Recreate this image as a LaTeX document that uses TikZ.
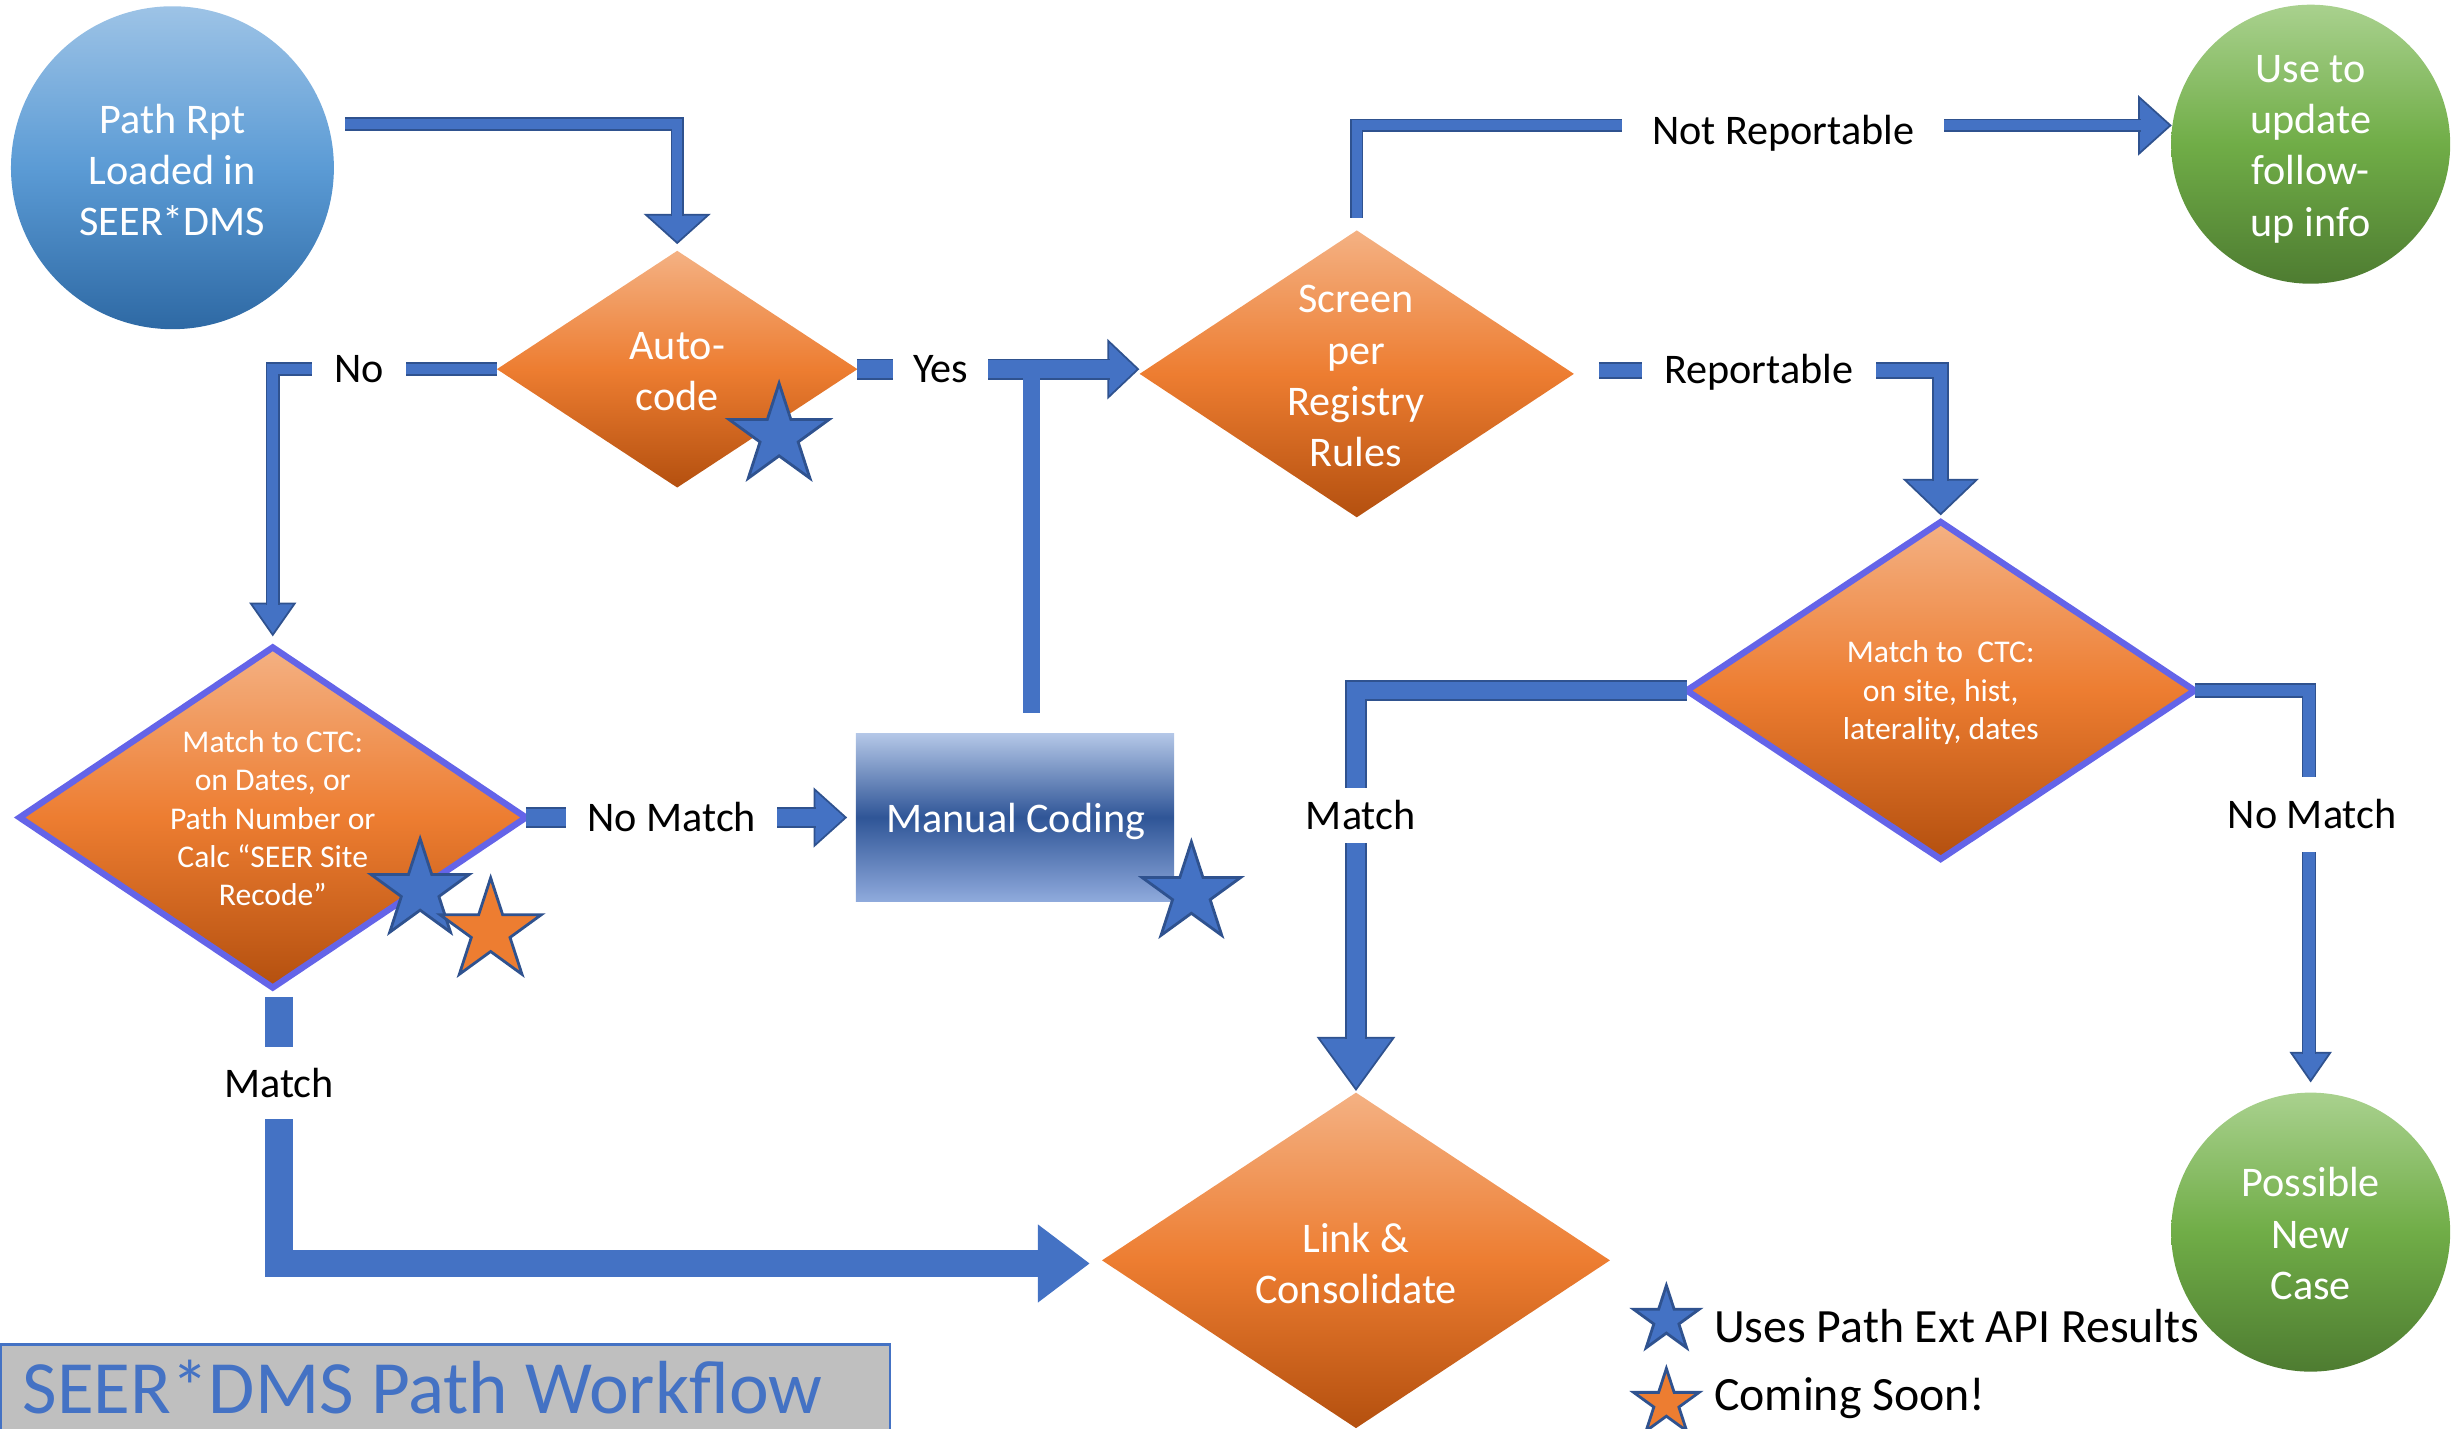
\documentclass[tikz,border=0pt]{standalone}
\usepackage{fontspec}
\setmainfont{Carlito}
\usetikzlibrary{shapes.geometric,calc}
\definecolor{cblue}{HTML}{4472C4}
\definecolor{cdark}{HTML}{2F528F}
\definecolor{cbord}{HTML}{6464E8}
\definecolor{oTop}{HTML}{F4B183}
\definecolor{oMid}{HTML}{ED7D31}
\definecolor{oBot}{HTML}{B4500F}
\definecolor{bTop}{HTML}{9DC3E6}
\definecolor{bMid}{HTML}{5B9BD5}
\definecolor{bBot}{HTML}{2E69A4}
\definecolor{gTop}{HTML}{A9D18E}
\definecolor{gMid}{HTML}{70AD47}
\definecolor{gBot}{HTML}{4E7C31}
\definecolor{mTop}{HTML}{B4C7E7}
\definecolor{mMid}{HTML}{2F5597}
\definecolor{mBot}{HTML}{8FAADC}
\definecolor{tgrey}{HTML}{BFBFBF}
\newcommand{\upx}{0.015676cm}
\newcommand{\tipD}[4][tipst]{\filldraw[#1] (#2) -- ++(-#3,-#4) -- ++(2*#3,0) -- cycle;}
\newcommand{\tipR}[4][tipst]{\filldraw[#1] (#2) -- ++(-#4,-#3) -- ++(0,2*#3) -- cycle;}
\begin{document}
\begin{tikzpicture}[x=0.015676cm,y=-0.015676cm,
 f12/.style={font=\fontsize{12}{14.6}\selectfont},
 f9/.style={font=\fontsize{9}{10.9}\selectfont},
 f13/.style={font=\fontsize{13.6}{16}\selectfont},
 dia/.style={diamond, inner sep=0pt, outer sep=0pt, top color=oTop, bottom color=oBot, middle color=oMid},
 diab/.style={dia, draw=cbord, line width=1.8pt},
 bcirc/.style={circle, inner sep=0pt, top color=bTop, bottom color=bBot, middle color=bMid, text=white, align=center, f12},
 gcirc/.style={circle, inner sep=0pt, top color=gTop, bottom color=gBot, middle color=gMid, text=white, align=center, f12},
 wtxt/.style={text=white, align=center, inner sep=0pt},
 conn/.style={draw=cdark, line width=0.5pt, double=cblue, double distance=#1, line join=miter},
 flat/.style={draw=cblue, line width=#1},
 tipst/.style={fill=cblue, draw=cdark, line width=0.5pt, line join=miter},
 tipflat/.style={fill=cblue, draw=none},
 lbl/.style={fill=white, f12, inner ysep=1pt, inner xsep=#1},
 vlbl/.style={fill=white, f12, inner xsep=2pt, inner ysep=#1},
 bstar/.style={star, star points=5, star point ratio=2.618, inner sep=0pt, outer sep=0pt, fill=cblue, draw=cdark, line width=0.8pt},
 ostar/.style={bstar, fill=oMid},
]
\useasboundingbox (0,0) rectangle (1568,911);

% shapes
\node[bcirc, minimum size=206*\upx] (pr) at (110,107) {};
\node[wtxt, f12] (prt) at (110,108.5) {Path Rpt\\Loaded in\\SEER*DMS};
\node[dia, minimum width=230*\upx, minimum height=151*\upx] (auto) at (432,235.5) {};
\node[wtxt, f12] (autot) at (432,237) {Auto-\\code};
\node[diab, minimum width=323*\upx, minimum height=217*\upx] (m1) at (174,521.5) {};
\node[wtxt, f9] (m1t) at (174,522) {Match to CTC:\\on Dates, or\\Path Number or\\Calc “SEER Site\\Recode”};
\node[rectangle, minimum width=203*\upx, minimum height=107*\upx, inner sep=0pt, top color=mTop, bottom color=mBot, middle color=mMid] (mc) at (647.5,521.5) {};
\node[wtxt, f12] (mct) at (648,524) {Manual Coding};
\node[dia, minimum width=277*\upx, minimum height=183*\upx] (scr) at (865.5,238.5) {};
\node[wtxt, f12] (scrt) at (865,240) {Screen\\per\\Registry\\Rules};
\node[gcirc, minimum size=178*\upx] (upd) at (1474,92) {};
\node[wtxt, f12] (updt) at (1474,95) {Use to\\update\\follow-\\up info};
\node[diab, minimum width=324*\upx, minimum height=215*\upx] (m2) at (1238,440.5) {};
\node[wtxt, f9] (m2t) at (1238,442) {Match to~ CTC:\\on site, hist,\\laterality, dates};
\node[dia, minimum width=324*\upx, minimum height=214*\upx] (link) at (865,804) {};
\node[wtxt, f12] (linkt) at (865,806) {Link \&\\Consolidate};
\node[gcirc, minimum size=178*\upx] (pnc) at (1474,786) {};
\node[wtxt, f12] (pnct) at (1474,787) {Possible\\New\\Case};

% title
\node[draw=cblue, line width=0.6pt, fill=tgrey, minimum width=567*\upx, minimum height=56*\upx, anchor=north west, inner sep=0pt] (tbox) at (0,857) {};
\node[anchor=west, text=cblue, font=\fontsize{21.4}{25}\selectfont, inner sep=0pt] (title) at (14,885) {SEER*DMS Path Workflow};

% connector: Path Rpt -> Auto-code
\tipD{$(auto.north)+(0,-5)$}{20}{18}
\draw[conn=2.8pt] ($(pr.center)+(110,-28)$) -| ($(auto.north)+(0,-22)$);

% connector: Auto-code -> Match (No)
\tipD{$(m1.north)+(0,-8)$}{14}{20}
\draw[conn=3pt] (auto.west) -| ($(m1.north)+(0,-27)$);
\node[lbl=6.3pt] (lno) at ($(auto.west)+(-88,0)$) {No};

% connector: Auto-code -> Screen (Yes)
\tipR{$(scr.west |- auto.east)+(-1,0)$}{18}{19}
\draw[conn=5pt] (auto.east) -- ($(scr.west |- auto.east)+(-19,0)$);
\node[lbl=5.6pt] (lyes) at ($(auto.east)+(53,0)$) {Yes};

% connector: Manual Coding -> Yes line
\draw[flat=5.1pt] ($(mc.north)+(10.5,-13)$) -- ($(mc.north |- auto.east)+(10.5,0)$);

% connector: Match -> Manual Coding (No Match)
\tipR{$(mc.west)+(-6,0)$}{18}{20}
\draw[conn=5pt] (m1.east) -- ($(mc.west)+(-25,0)$);
\node[lbl=6pt] (lnm1) at ($(m1.east)+(93,0)$) {No Match};

% connector: Screen -> Use to update (Not Reportable)
\tipR{$(upd.west)+(0,-12)$}{18}{20}
\draw[conn=2.8pt] ($(scr.north)+(0,-8)$) |- ($(upd.west)+(-19,-12)$);
\node[lbl=8.5pt] (lnr) at ($(scr.north |- upd.west)+(272,-7)$) {Not Reportable};

% connector: Screen -> Match2 (Reportable)
\tipD{$(m2.north)+(0,-5)$}{23}{22}
\draw[conn=3.7pt] ($(scr.east)+(16,-2)$) -| ($(m2.north)+(0,-26)$);
\node[lbl=6.5pt] (lrep) at ($(scr.east)+(118,-1)$) {Reportable};

% connector: Match2 -> Link (Match)
\tipD{$(link.north)+(0,-2)$}{24}{33}
\draw[conn=5pt] (m2.west) -| ($(link.north)+(0,-34)$);
\node[vlbl=3.6pt] (lm2) at ($(link.north)+(3,-177)$) {Match};

% connector: Match2 -> Possible New Case (No Match)
\tipD{$(pnc.north)+(0,-7)$}{12.5}{18}
\draw[conn=3.2pt] (m2.east) -| ($(pnc.north)+(-1,-24)$);
\node[vlbl=6.5pt] (lnm2) at ($(pnc.north)+(1,-177)$) {No Match};

% connector: Match -> Link (Match)
\tipR[tipflat]{$(link.west)+(-8,2)$}{25}{33}
\draw[flat=7.8pt] ($(m1.south)+(4,6)$) |- ($(link.west)+(-40,2)$);
\node[vlbl=6pt] (lm1) at ($(m1.south)+(4,61)$) {Match};

% stars
\node[bstar, minimum size=67*\upx] (s1) at (497,278) {};
\node[bstar, minimum size=66*\upx] (s2) at (268,568) {};
\node[ostar, minimum size=68*\upx] (s3) at (313,594) {};
\node[bstar, minimum size=66*\upx] (s4) at (760,570) {};
\node[bstar, minimum size=44*\upx] (s5) at (1063,842) {};
\node[ostar, minimum size=44*\upx] (s6) at (1063,895) {};

% legend
\node[anchor=west, f13, inner sep=0pt] (leg1) at (1093,846) {Uses Path Ext API Results};
\node[anchor=west, f13, inner sep=0pt] (leg2) at (1093,892) {Coming Soon!};
\end{tikzpicture}
\end{document}
